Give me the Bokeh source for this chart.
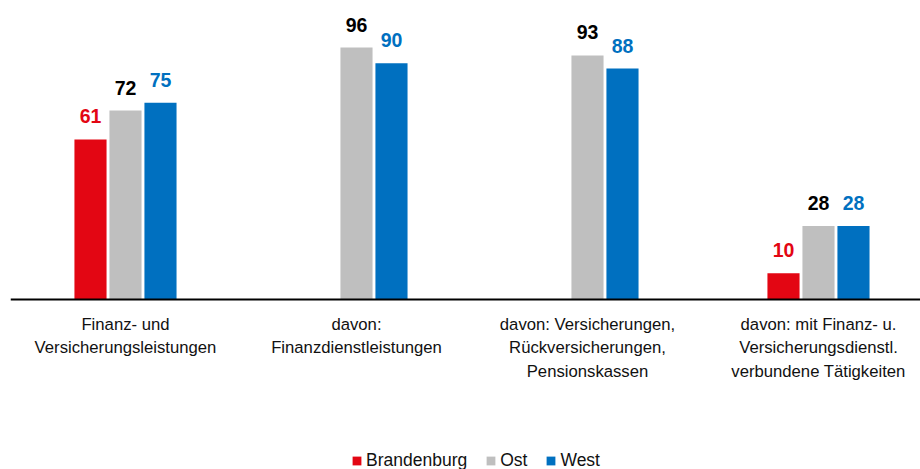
from bokeh.plotting import figure
from bokeh.models import (ColumnDataSource, Range1d, LabelSet, Legend,
                          LegendItem, Span)
from bokeh.core.properties import value
from bokeh.transform import dodge
from bokeh.embed import file_html
from bokeh.resources import INLINE

categories = [
    "Finanz- und\nVersicherungsleistungen",
    "davon:\nFinanzdienstleistungen",
    "davon: Versicherungen,\nRückversicherungen,\nPensionskassen",
    "davon: mit Finanz- u.\nVersicherungsdienstl.\nverbundene Tätigkeiten",
]
brandenburg = [61, None, None, 10]
ost = [72, 96, 93, 28]
west = [75, 90, 88, 28]

series_names = ["Brandenburg", "Ost", "West"]
bar_colors = ["#E30613", "#BFBFBF", "#0070C0"]
label_colors = ["#E30613", "#000000", "#0070C0"]

FONT = "Liberation Sans"

W, H = 920, 469
BASE_PX = 299          # baseline position from top, in pixels
PX_PER_UNIT = 2.625
y_top = BASE_PX / PX_PER_UNIT
y_bottom = -(H - BASE_PX) / PX_PER_UNIT

xs = list(range(len(categories)))

p = figure(width=W, height=H, output_backend="svg", toolbar_location=None,
           x_range=Range1d(-0.4978, 3.4416), y_range=Range1d(y_bottom, y_top),
           min_border_left=10, min_border_right=0, min_border_top=0,
           min_border_bottom=0)
p.outline_line_color = None
p.grid.grid_line_color = None
p.xaxis.visible = False
p.yaxis.visible = False
p.background_fill_color = "white"

offsets = [-0.1515, 0.0, 0.1515]
bar_w = 0.139
legend_items = []
for vals, name, bc, lc, off in zip([brandenburg, ost, west], series_names,
                                  bar_colors, label_colors, offsets):
    xv = [x for x, v in zip(xs, vals) if v is not None]
    yv = [v for v in vals if v is not None]
    src = ColumnDataSource(dict(x=xv, y=yv, t=[str(v) for v in yv]))
    r = p.vbar(x=dodge("x", off), top="y", bottom=0, width=bar_w, source=src,
               fill_color=bc, line_color=None)
    legend_items.append(LegendItem(label=name, renderers=[r]))
    labels = LabelSet(x=dodge("x", off), y="y", text="t", source=src,
                      text_align="center", text_baseline="alphabetic",
                      y_offset=16, text_font=value(FONT),
                      text_font_style="bold", text_font_size="19.5px",
                      text_color=lc)
    p.add_layout(labels)

# baseline (category axis line)
p.add_layout(Span(location=0, dimension="width", line_color="black",
                  line_width=2))

# category labels below the baseline
cat_src = ColumnDataSource(dict(x=xs, y=[-15 / PX_PER_UNIT] * len(xs),
                                t=categories))
p.text(x="x", y="y", text="t", source=cat_src, text_align="center",
       text_baseline="top", text_font=value(FONT), text_font_size="16.7px",
       text_color="#111111", text_line_height=1.25)

legend = Legend(items=legend_items, orientation="horizontal",
                location=(341, -2), label_text_font=FONT,
                label_text_font_size="17.5px", label_text_color="#111111",
                glyph_width=11, glyph_height=11, label_standoff=4, spacing=18,
                padding=0, margin=0, border_line_color=None,
                background_fill_alpha=0, label_height=14)
p.add_layout(legend, "center")

open("out.html", "w").write(file_html(p, INLINE))
